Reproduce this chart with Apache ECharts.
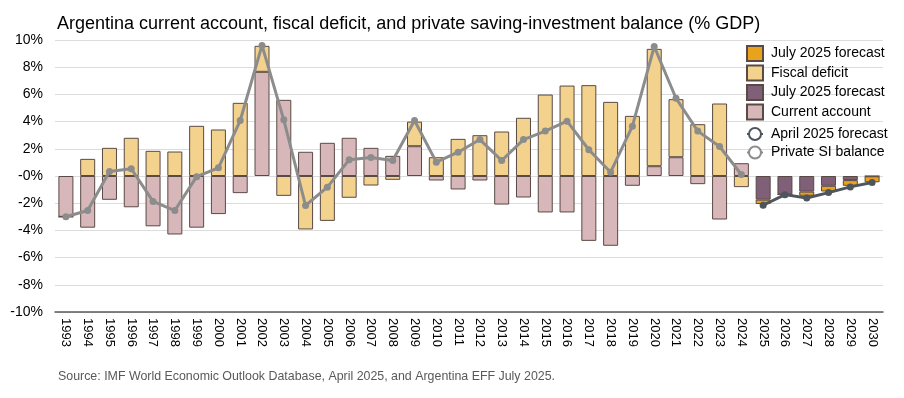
<!DOCTYPE html>
<html>
<head>
    <meta charset="utf-8">
    <title>Argentina SI balance</title>
    <script src="https://cdn.jsdelivr.net/npm/echarts@6/dist/echarts.min.js"></script>
</head>
<body style="margin:0">
<div id="main" style="width:904px;height:398px;"></div>
<script type="text/javascript">
// years on the x axis
var years = ['1993','1994','1995','1996','1997','1998','1999','2000','2001','2002',
    '2003','2004','2005','2006','2007','2008','2009','2010','2011','2012',
    '2013','2014','2015','2016','2017','2018','2019','2020','2021','2022',
    '2023','2024','2025','2026','2027','2028','2029','2030'];

// current account (% GDP), history
var currentAccount = [-3.0, -3.8, -1.75, -2.3, -3.7, -4.3, -3.8, -2.8, -1.26, 7.66,
    5.6, 1.78, 2.44, 2.81, 2.07, 1.48, 2.19, -0.33, -0.99, -0.33,
    -2.1, -1.58, -2.68, -2.68, -4.77, -5.13, -0.72, 0.72, 1.38, -0.6,
    -3.2, 0.94, null, null, null, null, null, null];
// fiscal deficit (% GDP), history
var fiscalDeficit = [0, 1.26, 2.07, 2.81, 1.85, 1.8, 3.69, 3.42, 5.38, 1.91,
    -1.46, -3.93, -3.3, -1.6, -0.7, -0.28, 1.81, 1.38, 2.73, 3.0,
    3.27, 4.28, 5.99, 6.65, 6.68, 5.45, 4.42, 8.63, 4.27, 3.81,
    5.33, -0.82, null, null, null, null, null, null];
// July 2025 forecast, current account part
var julyCA = [null, null, null, null, null, null, null, null, null, null,
    null, null, null, null, null, null, null, null, null, null,
    null, null, null, null, null, null, null, null, null, null,
    null, null, -1.74, -1.35, -1.15, -0.72, -0.3, -0.02];
// July 2025 forecast, fiscal part
var julyFiscal = [null, null, null, null, null, null, null, null, null, null,
    null, null, null, null, null, null, null, null, null, null,
    null, null, null, null, null, null, null, null, null, null,
    null, null, -0.32, -0.02, -0.3, -0.42, -0.42, -0.44];
// private saving-investment balance
var privateSI = [-3.0, -2.54, 0.33, 0.53, -1.87, -2.54, -0.05, 0.6, 4.08, 9.6,
    4.13, -2.17, -0.82, 1.19, 1.36, 1.14, 4.08, 1.02, 1.75, 2.68,
    1.14, 2.68, 3.3, 4.03, 1.93, 0.28, 3.66, 9.52, 5.72, 3.3,
    2.17, 0.11, null, null, null, null, null, null];
// April 2025 forecast
var aprilForecast = [null, null, null, null, null, null, null, null, null, null,
    null, null, null, null, null, null, null, null, null, null,
    null, null, null, null, null, null, null, null, null, null,
    null, null, -2.15, -1.37, -1.62, -1.22, -0.8, -0.48];

var chart = echarts.init(document.getElementById('main'));
var font = 'Liberation Sans, Arial, sans-serif';
var border = '#5a4a44';

// filled dots on the chart, hollow ring in the legend
function dots(arr) {
    return arr.map(function (v) { return { value: v, symbol: 'circle' }; });
}

var legendText = { fontSize: 14, color: '#000', fontFamily: font, padding: [0, 0, 0, 3] };

var option = {
    animation: false,
    textStyle: { fontFamily: font },
    title: [{
        text: 'Argentina current account, fiscal deficit, and private saving-investment balance (% GDP)',
        left: 52, top: 10,
        textStyle: { fontSize: 18, fontWeight: 'normal', color: '#000', fontFamily: font }
    }, {
        text: 'Source: IMF World Economic Outlook Database, April 2025, and Argentina EFF July 2025.',
        left: 53, top: 366,
        textStyle: { fontSize: 12.4, fontWeight: 'normal', color: '#595959', fontFamily: font }
    }],
    legend: [{
        orient: 'vertical',
        left: 741, top: 40,
        itemWidth: 16, itemHeight: 15, itemGap: 2.5,
        textStyle: legendText,
        data: [
            { name: 'July 2025 forecast', icon: 'rect' },
            { name: 'Fiscal deficit', icon: 'rect' },
            { name: 'July 2025 forecast ', icon: 'rect' },
            { name: 'Current account', icon: 'rect' }
        ]
    }, {
        orient: 'vertical',
        left: 741, top: 122,
        itemWidth: 16, itemHeight: 15, itemGap: 4.5,
        textStyle: legendText,
        data: ['April 2025 forecast', 'Private SI balance']
    }],
    grid: { left: 55, right: 21, top: 40, bottom: 86 },
    xAxis: {
        type: 'category',
        data: years,
        axisLine: { onZero: false, lineStyle: { color: '#595959', width: 1.5 } },
        axisTick: { show: false },
        axisLabel: { rotate: -90, fontSize: 13, color: '#000', margin: 6, interval: 0 }
    },
    yAxis: {
        type: 'value',
        min: -10, max: 10, interval: 2,
        axisLine: { show: false },
        axisTick: { show: false },
        splitLine: { lineStyle: { color: '#dcdcdc', width: 1 } },
        axisLabel: {
            fontSize: 14, color: '#000', margin: 12,
            formatter: function (v) { return (v === 0 ? '-0' : v) + '%'; }
        }
    },
    series: [
        {
            name: 'Current account', type: 'bar', stack: 'a', barWidth: 15,
            data: currentAccount,
            itemStyle: { color: '#d8b7bb', borderColor: border, borderWidth: 1 }
        },
        {
            name: 'July 2025 forecast ', type: 'bar', stack: 'a', barWidth: 15,
            data: julyCA,
            itemStyle: { color: '#7f6078', borderColor: border, borderWidth: 1 }
        },
        {
            name: 'Fiscal deficit', type: 'bar', stack: 'a', barWidth: 15,
            data: fiscalDeficit,
            itemStyle: { color: '#f2d28d', borderColor: border, borderWidth: 1 }
        },
        {
            name: 'July 2025 forecast', type: 'bar', stack: 'a', barWidth: 15,
            data: julyFiscal,
            itemStyle: { color: '#e9a21c', borderColor: border, borderWidth: 1 }
        },
        {
            name: 'Private SI balance', type: 'line', data: dots(privateSI),
            symbol: 'emptyCircle', symbolSize: 7, z: 5,
            lineStyle: { color: '#8c8c8c', width: 3 },
            itemStyle: { color: '#8c8c8c' }
        },
        {
            name: 'April 2025 forecast', type: 'line', data: dots(aprilForecast),
            symbol: 'emptyCircle', symbolSize: 7, z: 5,
            lineStyle: { color: '#4f555c', width: 3 },
            itemStyle: { color: '#4f555c' }
        }
    ]
};
chart.setOption(option);
</script>
</body>
</html>
